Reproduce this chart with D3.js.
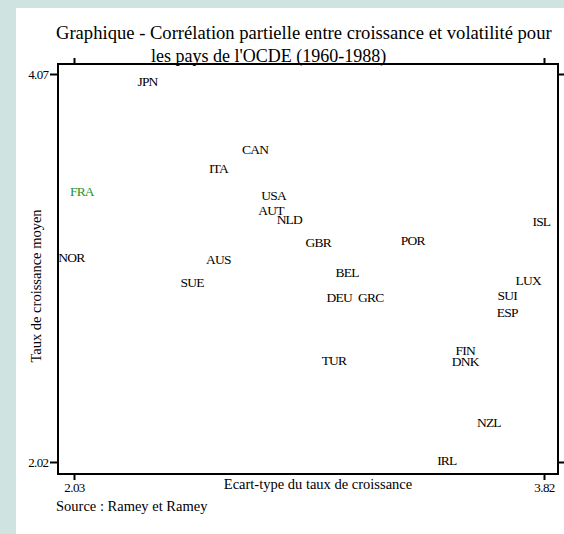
<!DOCTYPE html>
<html>
<head>
<meta charset="utf-8">
<script src="https://d3js.org/d3.v7.min.js"></script>
<style>
  body { margin: 0; background: #cfe4e1; }
  svg { display: block; font-family: "Liberation Serif", "Times New Roman", serif; }
</style>
</head>
<body>
<script>
// pays de l'OCDE, écart-type (x) et taux de croissance moyen (y)
var pays = ["JPN", "FRA", "CAN", "ITA", "USA", "AUT", "NLD", "GBR", "AUS", "SUE", "BEL", "DEU", "GRC",
            "NOR", "POR", "ISL", "LUX", "SUI", "ESP", "FIN", "DNK", "TUR", "NZL", "IRL"];
var ecartType = [2.31, 2.06, 2.72, 2.58, 2.79, 2.78, 2.85, 2.96, 2.58, 2.48, 3.07, 3.04, 3.16,
                 2.02, 3.32, 3.81, 3.76, 3.68, 3.68, 3.52, 3.52, 3.02, 3.61, 3.45];
var croissance = [4.03, 3.45, 3.67, 3.57, 3.43, 3.35, 3.30, 3.18, 3.09, 2.97, 3.02, 2.89, 2.89,
                  3.10, 3.19, 3.29, 2.98, 2.90, 2.81, 2.61, 2.55, 2.56, 2.23, 2.03];
var enVert = "FRA";
var xTicks = [2.03, 3.82];
var yTicks = [2.02, 4.07];

var width = 564, height = 534;
var frame = {left: 58, top: 64, right: 558, bottom: 474};

var svg = d3.select("body").append("svg")
    .attr("width", width)
    .attr("height", height);

// panneau blanc
svg.append("rect")
  .attr("x", 16).attr("y", 8)
  .attr("width", width - 16).attr("height", height - 8)
  .attr("fill", "#fff");

var x = d3.scaleLinear().domain([2.03, 3.82]).range([74, 544]);
var y = d3.scaleLinear().domain([2.02, 4.07]).range([462, 74]);

// titre
var titre = svg.append("g").attr("fill", "#000");
titre.append("text").attr("x", 56).attr("y", 39).attr("font-size", 18.6)
  .text("Graphique - Corrélation partielle entre croissance et volatilité pour");
titre.append("text").attr("x", 151).attr("y", 62).attr("font-size", 18)
  .text("les pays de l'OCDE (1960-1988)");

// cadre
svg.append("rect")
  .attr("x", frame.left).attr("y", frame.top)
  .attr("width", frame.right - frame.left)
  .attr("height", frame.bottom - frame.top)
  .attr("fill", "none")
  .attr("stroke", "#000")
  .attr("stroke-width", 2);

function styleAxis(g) {
  g.select(".domain").remove();
  g.selectAll(".tick line").attr("stroke", "#000").attr("stroke-width", 2);
  g.selectAll(".tick text")
    .attr("fill", "#000")
    .attr("font-size", 13)
    .attr("font-family", "Liberation Serif, Times New Roman, serif")
    .attr("letter-spacing", -0.6);
}

svg.append("g")
  .attr("transform", "translate(" + frame.left + ",0)")
  .call(d3.axisLeft(y).tickValues(yTicks).tickSize(8).tickPadding(1.5).tickFormat(d3.format(".2f")))
  .call(styleAxis);

svg.append("g")
  .attr("transform", "translate(" + (frame.right - 1) + ",0)")
  .call(d3.axisRight(y).tickValues(yTicks).tickSize(8).tickFormat(""))
  .call(styleAxis);

svg.append("g")
  .attr("transform", "translate(0," + frame.bottom + ")")
  .call(d3.axisBottom(x).tickValues(xTicks).tickSize(6).tickPadding(3).tickFormat(d3.format(".2f")))
  .call(styleAxis);

svg.append("g")
  .attr("transform", "translate(0," + (frame.top + 1) + ")")
  .call(d3.axisTop(x).tickValues(xTicks).tickSize(7).tickFormat(""))
  .call(styleAxis);

// titres des axes
svg.append("text")
  .attr("x", 318).attr("y", 489)
  .attr("text-anchor", "middle")
  .attr("font-size", 14.5)
  .text("Ecart-type du taux de croissance");

svg.append("text")
  .attr("transform", "translate(41,286) rotate(-90)")
  .attr("text-anchor", "middle")
  .attr("font-size", 14.5)
  .text("Taux de croissance moyen");

svg.append("text")
  .attr("x", 56).attr("y", 511)
  .attr("font-size", 14.5)
  .text("Source : Ramey et Ramey");

// étiquettes des pays
var points = pays.map(function(p, i) { return {nom: p, x: ecartType[i], y: croissance[i]}; });

svg.append("g").selectAll("text")
  .data(points)
  .enter()
  .append("text")
  .attr("x", function(d) { return x(d.x); })
  .attr("y", function(d) { return y(d.y); })
  .attr("dy", "0.35em")
  .attr("text-anchor", "middle")
  .attr("font-size", 13.5)
  .attr("letter-spacing", -0.8)
  .attr("fill", function(d) { return d.nom === enVert ? "#1e961e" : "#000"; })
  .text(function(d) { return d.nom; });
</script>
</body>
</html>
